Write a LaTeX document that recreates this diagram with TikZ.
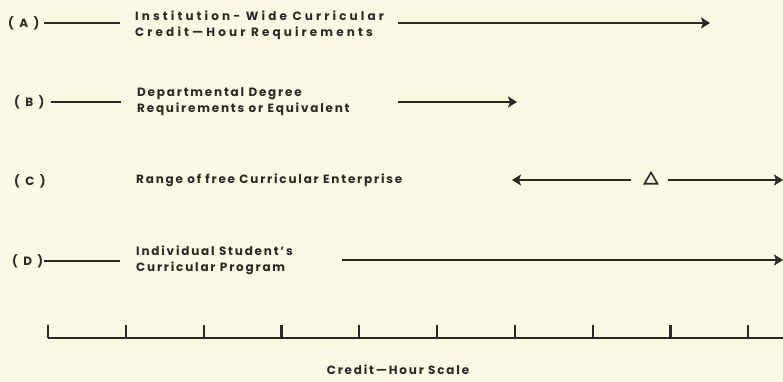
\documentclass[tikz,border=0pt]{standalone}
\usepackage{fontspec}
\setmainfont{Poppins}[LetterSpace=15]
\usetikzlibrary{arrows.meta,positioning,shapes.geometric}
\definecolor{paper}{HTML}{FBF8E3}
\definecolor{ink}{HTML}{2B2A22}

\begin{document}
\begin{tikzpicture}
[x=1pt,y=-1pt,>={Stealth[length=9pt,width=11pt,inset=2pt]},
line/.style={draw=ink,line width=2.2pt},
caption/.style={anchor=west,inner sep=0pt,text=ink,align=left,
  font=\bfseries\fontsize{12}{16}\selectfont},
tag/.style={caption,font=\bfseries\fontsize{12}{16}\selectfont\addfontfeatures{LetterSpace=45}},
wide/.style={font=\bfseries\fontsize{12}{16}\selectfont\addfontfeatures{LetterSpace=26}}]
\fill[paper] (0,0) rectangle (783,382);
\useasboundingbox (0,0) rectangle (783,382);
% row tags and their texts
\node[tag] (A) at (8,23) {(A)};
\node[caption,wide] (At) at (135,25) {Institution- Wide Curricular\\Credit—Hour Requirements};
\node[tag] (B) at (14,102) {(B)};
\node[caption] (Bt) at (137,102) {Departmental Degree\\Requirements or Equivalent};
\node[tag] (C) at (14,181) {(C)};
\node[caption] (Ct) at (136,180) {Range of free Curricular Enterprise};
\node[tag] (D) at (12,261) {(D)};
\node[caption] (Dt) at (136,260) {Individual Student's\\Curricular Program};
% arrow ends
\coordinate (As) at (398,23);  \coordinate (Ae) at (710,23);
\coordinate (Bs) at (398,102); \coordinate (Be) at (517,102);
\coordinate (Cl) at (512,180); \coordinate (Cr) at (783,180);
\coordinate (Ds) at (342,260); \coordinate (De) at (783,260);
\node[regular polygon,regular polygon sides=3,draw=ink,line width=1.6pt,
  inner sep=0pt,minimum size=15pt] (delta) at (651,180) {};
% leaders
\draw[line] ([xshift=5pt]A.east) -- ([xshift=-15pt]A.east -| At.west);
\draw[line] ([xshift=6pt]B.east) -- ([xshift=-16pt]B.east -| Bt.west);
\draw[line] ([xshift=1pt]D.east) -- ([xshift=-16pt]D.east -| Dt.west);
\draw[line,->] (As) -- (Ae);
\draw[line,->] (Bs) -- (Be);
\draw[line,->] ([xshift=-20pt]delta.center) -- (Cl);
\draw[line,->] ([xshift=17pt]delta.center) -- (Cr);
\draw[line,->] (Ds) -- (De);
% credit-hour scale
\draw[line] (48,338) -- (783,338);
\foreach \i in {0,...,9}
  \draw[line] (48+77.8*\i,338) -- ++(0,-13);
\node[caption,anchor=center] (scale) at (398,370) {Credit—Hour Scale};
\end{tikzpicture}
\end{document}
